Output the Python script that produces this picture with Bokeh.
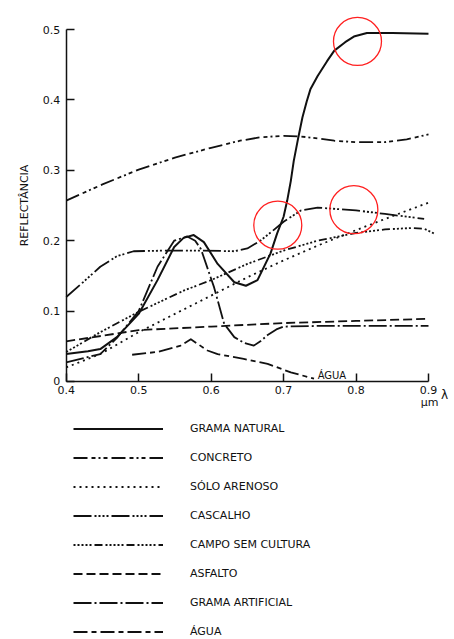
from bokeh.plotting import figure
from bokeh.models import Range1d, Legend, LegendItem, Label, FixedTicker
from bokeh.embed import file_html
from bokeh.resources import INLINE

FONT = "DejaVu Sans"

# ---------------- data ----------------
x_ticks = [0.4, 0.5, 0.6, 0.7, 0.8, 0.9]
y_ticks = [0.0, 0.1, 0.2, 0.3, 0.4, 0.5]
y_tick_labels = {0.0: "0", 0.1: "0.1", 0.2: "0.2", 0.3: "0.3", 0.4: "0.4", 0.5: "0.5"}

names = ["GRAMA NATURAL", "CONCRETO", "SÓLO ARENOSO", "CASCALHO",
         "CAMPO SEM CULTURA", "ASFALTO", "GRAMA ARTIFICIAL", "ÁGUA"]

grama_natural_x = [0.40, 0.43, 0.447, 0.47, 0.50, 0.526, 0.549, 0.562, 0.576, 0.59,
                   0.609, 0.632, 0.648, 0.664, 0.682, 0.691, 0.70, 0.705, 0.71, 0.714,
                   0.72, 0.726, 0.732, 0.737, 0.747, 0.76, 0.77, 0.785, 0.797, 0.815,
                   0.85, 0.90]
grama_natural_y = [0.039, 0.043, 0.046, 0.063, 0.096, 0.144, 0.191, 0.204, 0.208, 0.198,
                   0.167, 0.141, 0.136, 0.144, 0.182, 0.210, 0.234, 0.257, 0.285, 0.313,
                   0.345, 0.375, 0.398, 0.415, 0.434, 0.455, 0.470, 0.482, 0.490, 0.495,
                   0.495, 0.494]

concreto_x = [0.40, 0.45, 0.50, 0.55, 0.60, 0.64, 0.668, 0.70, 0.724, 0.75, 0.77, 0.80, 0.84, 0.87, 0.90]
concreto_y = [0.257, 0.280, 0.301, 0.318, 0.332, 0.342, 0.347, 0.349, 0.348, 0.345, 0.342, 0.340, 0.340, 0.344, 0.351]

solo_x = [0.40, 0.447, 0.50, 0.55, 0.60, 0.65, 0.70, 0.747, 0.80, 0.853, 0.90]
solo_y = [0.020, 0.039, 0.070, 0.096, 0.122, 0.148, 0.172, 0.193, 0.215, 0.236, 0.254]

cascalho_x = [0.40, 0.42, 0.447, 0.47, 0.493, 0.54, 0.586, 0.632, 0.65, 0.668, 0.685, 0.70, 0.724, 0.747, 0.80, 0.84, 0.894]
cascalho_y = [0.120, 0.138, 0.163, 0.178, 0.185, 0.186, 0.186, 0.185, 0.189, 0.200, 0.214, 0.227, 0.243, 0.247, 0.243, 0.238, 0.231]

campo_x = [0.40, 0.447, 0.50, 0.562, 0.60, 0.65, 0.70, 0.747, 0.80, 0.84, 0.876, 0.894, 0.908]
campo_y = [0.042, 0.070, 0.099, 0.129, 0.144, 0.167, 0.186, 0.200, 0.211, 0.216, 0.218, 0.217, 0.210]

asfalto_x = [0.40, 0.50, 0.60, 0.70, 0.80, 0.90]
asfalto_y = [0.057, 0.073, 0.078, 0.083, 0.086, 0.089]

grama_art_x = [0.40, 0.447, 0.47, 0.50, 0.526, 0.549, 0.567, 0.578, 0.586, 0.604, 0.618,
               0.632, 0.645, 0.659, 0.668, 0.678, 0.69, 0.70, 0.75, 0.80, 0.90]
grama_art_y = [0.027, 0.039, 0.062, 0.100, 0.163, 0.200, 0.206, 0.200, 0.188, 0.134, 0.082,
               0.063, 0.055, 0.051, 0.057, 0.066, 0.074, 0.078, 0.079, 0.079, 0.079]

agua_x = [0.491, 0.526, 0.558, 0.572, 0.595, 0.609, 0.645, 0.678, 0.71, 0.742]
agua_y = [0.038, 0.042, 0.051, 0.060, 0.044, 0.039, 0.032, 0.025, 0.013, 0.004]

highlight_x = [0.802, 0.692, 0.797]
highlight_y = [0.483, 0.222, 0.244]

series_x = [grama_natural_x, concreto_x, solo_x, cascalho_x, campo_x, asfalto_x, grama_art_x, agua_x]
series_y = [grama_natural_y, concreto_y, solo_y, cascalho_y, campo_y, asfalto_y, grama_art_y, agua_y]

# ---------------- styles ----------------
INK = "#111111"
styles = [
    dict(line_dash="solid", line_width=2.0),
    dict(line_dash="14 4 4 3 2 3 4 4", line_width=1.8),
    dict(line_dash="2 4", line_width=1.8),
    dict(line_dash="18 3 2 2 2 2 2 2 2 3", line_width=1.8),
    dict(line_dash="2 2 2 2 2 2 2 2 2 3 8 3", line_width=1.8),
    dict(line_dash="9 4", line_width=1.8),
    dict(line_dash="18 3 2 3", line_width=1.8),
    dict(line_dash="14 4 5 4", line_width=1.8),
]

# one frame covering the whole figure; axes are pinned at x=0.4 / y=0
p = figure(frame_width=454, frame_height=639,
           x_range=Range1d(0.3093, 0.9359), y_range=Range1d(-0.3665, 0.5412),
           output_backend="svg", toolbar_location=None,
           min_border_left=0, min_border_right=0, min_border_top=0, min_border_bottom=0)

p.xgrid.visible = False
p.ygrid.visible = False
p.outline_line_color = None
p.background_fill_color = "white"
p.border_fill_color = "white"

renderers = []
for xs, ys, st in zip(series_x, series_y, styles):
    r = p.line(xs, ys, line_color=INK, line_join="round", **st)
    renderers.append(r)

p.scatter(highlight_x, highlight_y, marker="circle", size=48,
          fill_color=None, line_color="#ff2020", line_width=1.3)

xa = p.xaxis[0]
xa.ticker = FixedTicker(ticks=x_ticks)
xa.bounds = (0.4, 0.9)
xa.fixed_location = 0.0
xa.major_label_standoff = 5
ya = p.yaxis[0]
ya.ticker = FixedTicker(ticks=y_ticks)
ya.bounds = (0.0, 0.5)
ya.fixed_location = 0.4
ya.major_label_overrides = y_tick_labels
ya.major_label_standoff = 6
for ax in (xa, ya):
    ax.axis_line_width = 1.5
    ax.axis_line_color = INK
    ax.major_tick_line_width = 1.5
    ax.major_tick_line_color = INK
    ax.major_tick_in = 8
    ax.major_tick_out = 0
    ax.minor_tick_line_color = None
    ax.major_label_text_font = FONT
    ax.major_label_text_font_size = "11px"
    ax.major_label_text_color = INK
ya.axis_label = "REFLECTÂNCIA"
ya.axis_label_text_font = FONT
ya.axis_label_text_font_size = "11px"
ya.axis_label_text_font_style = "normal"
ya.axis_label_text_color = INK
ya.axis_label_standoff = 9

# texts
p.add_layout(Label(x=0.747, y=0.001, text="ÁGUA", text_font=FONT, text_font_size="10px",
                   text_color=INK, text_baseline="bottom"))
p.add_layout(Label(x=0.922, y=-0.0185, text="λ", text_font=FONT, text_font_size="12px",
                   text_color=INK, text_baseline="middle", text_align="center"))
p.add_layout(Label(x=0.9015, y=-0.030, text="μm", text_font=FONT, text_font_size="11px",
                   text_color=INK, text_baseline="middle", text_align="center"))

legend = Legend(items=[LegendItem(label=n, renderers=[r]) for n, r in zip(names, renderers)],
                location=(73, -3), orientation="vertical",
                glyph_width=90, glyph_height=21, label_height=21, label_standoff=27,
                spacing=8, padding=0, margin=0,
                border_line_color=None, background_fill_alpha=0,
                label_text_font=FONT, label_text_font_size="11px", label_text_color=INK)
p.add_layout(legend, "center")

open("out.html", "w").write(file_html(p, INLINE))
